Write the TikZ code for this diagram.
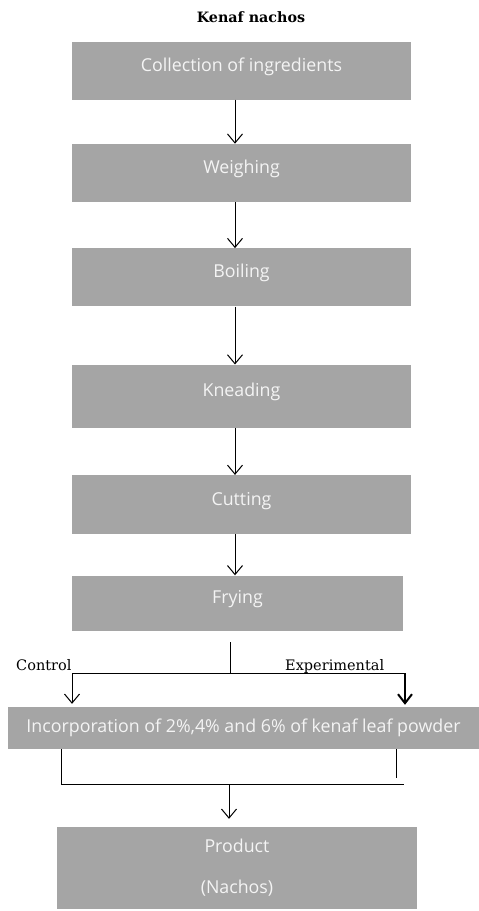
\documentclass[tikz,border=0pt]{standalone}
\usepackage{fontspec}
\setmainfont{DejaVu Serif}
\newfontfamily\boxfont{Open Sans}
\usetikzlibrary{positioning, arrows.meta}
\definecolor{boxgray}{HTML}{A5A5A5}
\definecolor{boxtext}{HTML}{F4F4F4}
\tikzstyle{graybox} = [rectangle, minimum width=339pt, minimum height=58pt, inner sep=0pt, text centered, fill=boxgray, text=boxtext, font=\boxfont\fontsize{17.8}{21}\selectfont]
\tikzstyle{stage} = [graybox, text height=11pt, text depth=10pt]
\tikzstyle{branch} = [inner sep=0pt, font=\fontsize{14.5}{17}\selectfont]
\tikzstyle{line} = [line width=1pt]
\tikzstyle{arrow} = [line width=1pt, -{Straight Barb[length=9pt,width=15pt]}]
\tikzstyle{boldarrow} = [line width=2pt, -{Straight Barb[length=9pt,width=14pt]}]

\begin{document}
\begin{tikzpicture}[x=1pt, y=1pt, node distance=44pt]
      \useasboundingbox[fill=white] (0,0) rectangle (479,-911);
      % Nodes
      \node (title) [font=\bfseries\fontsize{14.3}{17}\selectfont] at (251,-17) {Kenaf nachos};
      \node (collect) [stage] at (241.5,-70.5) {Collection of ingredients};
      \node (weigh) [stage, below=44pt of collect] {Weighing};
      \node (boil) [stage, below=46pt of weigh] {Boiling};
      \node (knead) [stage, below=58pt of boil, minimum height=63pt] {Kneading};
      \node (cut) [stage, below=47pt of knead, minimum height=59pt] {Cutting};
      \node (fry) [stage, below=41pt of cut, xshift=-4pt, minimum width=331pt, minimum height=55pt] {Frying};
      \node (incorp) [stage, minimum width=471pt, minimum height=42pt, text height=12pt, text depth=4pt] at (243.5,-728) {Incorporation of 2\%,4\% and 6\% of kenaf leaf powder};
      \node (product) [graybox, minimum width=360pt, minimum height=82pt, align=center] at (237,-868) {Product\\[20pt](Nachos)};
      \node (control) [branch, anchor=base west] at (16,-670) {Control};
      \node (experiment) [branch, anchor=base west] at (285,-670) {Experimental};
      \coordinate (split) at (230,-673);
      \coordinate (ctrl) at (72,-673);
      \coordinate (expt) at (405,-673);
      \coordinate (joinL) at (61,-784);
      \coordinate (joinR) at (404,-784);
      \coordinate (sideR) at (396,-778);
      \coordinate (merge) at (229,-784);
      % Arrows
      \draw [arrow] ([xshift=-6.5pt]collect.south) -- ([xshift=-6.5pt]weigh.north);
      \draw [arrow] ([xshift=-6.5pt]weigh.south) -- ([xshift=-6.5pt]boil.north);
      \draw [arrow] ([xshift=-6.5pt]boil.south) -- ([xshift=-6.5pt]knead.north);
      \draw [arrow] ([xshift=-6.5pt]knead.south) -- ([xshift=-6.5pt]cut.north);
      \draw [arrow] ([xshift=-6.5pt]cut.south) -- ([xshift=-6.5pt]cut.south |- fry.north);
      \draw [line] (split |- 0,-642) -- (split);
      \draw [line] (ctrl) -- (expt);
      \draw [arrow] (ctrl) -- ([yshift=3pt]ctrl |- incorp.north);
      \draw [boldarrow] (expt) -- ([yshift=2pt]expt |- incorp.north);
      \draw [line] (joinL |- incorp.south) -- (joinL);
      \draw [line] (sideR |- incorp.south) -- (sideR);
      \draw [line] (joinL) -- (joinR);
      \draw [arrow] (merge) -- ([yshift=8pt]merge |- product.north);
    \end{tikzpicture}
\end{document}
